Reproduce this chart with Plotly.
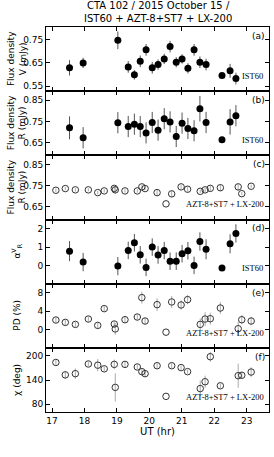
import plotly.graph_objects as go
from plotly.subplots import make_subplots

# ---------------- data ----------------
ist_t = [17.54, 17.96, 19.03, 19.35, 19.54, 19.72, 19.90, 20.09, 20.27, 20.46,
         20.64, 20.83, 21.01, 21.19, 21.38, 21.56, 21.75, 22.49, 22.67]
v_flux = [0.629, 0.650, 0.747, 0.633, 0.599, 0.657, 0.706, 0.629, 0.643, 0.667,
          0.720, 0.653, 0.667, 0.627, 0.706, 0.653, 0.643, 0.616, 0.583]
v_err = [0.033, 0.022, 0.038, 0.025, 0.020, 0.025, 0.025, 0.025, 0.022, 0.022,
         0.025, 0.022, 0.020, 0.022, 0.025, 0.025, 0.025, 0.030, 0.025]
r_flux_ist = [0.720, 0.673, 0.744, 0.726, 0.737, 0.726, 0.696, 0.745, 0.709, 0.763,
              0.748, 0.679, 0.742, 0.717, 0.706, 0.810, 0.745, 0.748, 0.777]
r_err_ist = [0.054, 0.050, 0.050, 0.050, 0.050, 0.050, 0.050, 0.050, 0.050, 0.050,
             0.050, 0.050, 0.050, 0.050, 0.050, 0.060, 0.050, 0.060, 0.050]
alpha = [0.78, 0.18, -0.04, 0.82, 1.24, 0.58, -0.11, 1.00, 0.57, 0.81,
         0.23, 0.23, 0.64, 0.80, 0.00, 1.31, 0.88, 1.18, 1.75]
alpha_err = [0.55, 0.50, 0.50, 0.48, 0.48, 0.48, 0.48, 0.48, 0.48, 0.48,
             0.48, 0.48, 0.48, 0.48, 0.48, 0.50, 0.55, 0.52, 0.50]

azt_t = [17.12, 17.41, 17.72, 18.12, 18.41, 18.61, 18.92, 18.95, 19.25, 19.63,
         19.77, 19.87, 20.24, 20.69, 20.98, 21.18, 21.57, 21.72, 21.88, 22.19,
         22.74, 22.85, 23.14]
r_flux_azt = [0.728, 0.736, 0.730, 0.730, 0.717, 0.725, 0.737, 0.730, 0.725, 0.725,
              0.744, 0.736, 0.717, 0.711, 0.744, 0.733, 0.723, 0.730, 0.737, 0.740,
              0.744, 0.712, 0.747]
r_err_azt = [0.008, 0.008, 0.008, 0.008, 0.008, 0.008, 0.010, 0.018, 0.008, 0.008,
             0.010, 0.008, 0.015, 0.015, 0.010, 0.012, 0.008, 0.010, 0.012, 0.015,
             0.015, 0.008, 0.008]
pd_val = [2.06, 1.54, 1.10, 2.28, 0.88, 4.56, 1.18, 0.10, 2.13, 2.72,
          6.98, 1.84, 5.44, 6.03, 5.37, 6.54, 1.10, 2.28, 2.35, 4.70,
          0.15, 2.13, 1.84]
pd_err = [0.6, 0.6, 0.6, 0.6, 0.6, 0.6, 0.6, 1.3, 0.7, 0.6,
          1.3, 0.7, 1.4, 1.3, 1.0, 1.0, 1.3, 1.5, 1.3, 1.3,
          1.5, 1.0, 0.9]
chi_val = [183.8, 153, 156, 180, 177, 168, 179, 122, 179, 172.6,
           161, 156, 175.7, 175.7, 171, 161, 119, 136, 198, 126,
           151, 152, 160]
chi_err = [6, 10, 13, 6, 15, 6, 12, 35, 8, 6,
           6, 8, 6, 6, 5, 5, 20, 15, 12, 6,
           30, 8, 12]

x_ticks = [17, 18, 19, 20, 21, 22, 23]
y_ticks = [[0.55, 0.65, 0.75], [0.65, 0.75, 0.85], [0.65, 0.75, 0.85],
           [0, 1, 2], [0, 4, 8], [80, 140, 200]]
y_ranges = [[0.529, 0.804], [0.59, 0.893], [0.59, 0.893],
            [-1.0, 2.51], [-4.05, 10.05], [61, 220]]
y_titles = ["Flux density<br>V (mJy)", "Flux density<br>R (mJy)",
            "Flux density<br>R (mJy)", "α<sup>V</sup><sub>R</sub>",
            "PD (%)", "χ (deg)"]
panel_labels = ["(a)", "(b)", "(c)", "(d)", "(e)", "(f)"]
ist_name = "IST60"
azt_name = "AZT-8+ST7 + LX-200"
title_text = "CTA 102 / 2015 October 15 /<br>IST60 + AZT-8+ST7 + LX-200"

# ---------------- figure ----------------
fig = make_subplots(rows=6, cols=1, shared_xaxes=True, vertical_spacing=0)

def ist_trace(y, e, leg):
    return go.Scatter(
        x=ist_t, y=y, mode="markers", name=ist_name, legend=leg,
        marker=dict(symbol="circle", size=7, color="black"),
        error_y=dict(type="data", array=e, color="#555555", thickness=1, width=0),
    )

def azt_trace(y, e, leg):
    return go.Scatter(
        x=azt_t, y=y, mode="markers", name=azt_name, legend=leg,
        marker=dict(symbol="circle-open", size=6.5, color="#333333",
                    line=dict(width=1, color="#333333")),
        error_y=dict(type="data", array=e, color="#aaaaaa", thickness=1, width=0),
    )

fig.add_trace(ist_trace(v_flux, v_err, "legend"), row=1, col=1)
fig.add_trace(ist_trace(r_flux_ist, r_err_ist, "legend2"), row=2, col=1)
fig.add_trace(azt_trace(r_flux_azt, r_err_azt, "legend3"), row=3, col=1)
fig.add_trace(ist_trace(alpha, alpha_err, "legend4"), row=4, col=1)
fig.add_trace(azt_trace(pd_val, pd_err, "legend5"), row=5, col=1)
fig.add_trace(azt_trace(chi_val, chi_err, "legend6"), row=6, col=1)

tickfont = dict(family="DejaVu Sans", size=9, color="black")
axis_common = dict(showline=True, linecolor="black", linewidth=1, mirror="ticks",
                   ticks="inside", ticklen=4, tickcolor="black", tickwidth=1,
                   showgrid=False, zeroline=False, tickfont=tickfont)

for i in range(6):
    fig.update_xaxes(range=[16.815, 23.69], tickvals=x_ticks,
                     showticklabels=(i == 5), row=i + 1, col=1, **axis_common)
    fig.update_yaxes(range=y_ranges[i], tickvals=y_ticks[i], row=i + 1, col=1,
                     **axis_common)

fig.update_xaxes(title=dict(text="UT (hr)", font=dict(family="DejaVu Sans", size=10,
                 color="black"), standoff=2), row=6, col=1)

annotations = []
for i in range(6):
    xr = "x domain" if i == 0 else f"x{i+1} domain"
    yr = "y domain" if i == 0 else f"y{i+1} domain"
    annotations.append(dict(text=panel_labels[i], xref=xr, yref=yr, x=0.99, y=0.97,
                            xanchor="right", yanchor="top", showarrow=False,
                            font=dict(family="DejaVu Sans", size=9, color="black")))
    annotations.append(dict(text=y_titles[i], xref="paper", yref=yr,
                            x=-0.13, y=0.5, xanchor="center", yanchor="middle",
                            textangle=-90, showarrow=False,
                            font=dict(family="DejaVu Sans", size=9, color="black")))
annotations.append(dict(text=title_text,
                        xref="paper", yref="paper", x=0.5, y=1.0, yshift=1,
                        xanchor="center", yanchor="bottom", showarrow=False,
                        font=dict(family="DejaVu Sans", size=10, color="black")))
fig.update_layout(annotations=annotations)

# legends
domains = []
for i in range(6):
    key = "yaxis" if i == 0 else f"yaxis{i+1}"
    domains.append(fig.layout[key].domain)
leg_font = dict(family="Liberation Serif", size=8.5, color="black")
leg_names = ["legend", "legend2", "legend3", "legend4", "legend5", "legend6"]
for i, ln in enumerate(leg_names):
    fig.update_layout({ln: dict(x=1.0, xanchor="right", y=domains[i][0] + 0.003,
                                yanchor="bottom", bgcolor="rgba(0,0,0,0)",
                                font=leg_font, itemwidth=30,
                                tracegroupgap=0)})

fig.update_layout(
    width=274, height=457,
    margin=dict(l=46, r=5, t=27, b=45),
    paper_bgcolor="white", plot_bgcolor="white",
    showlegend=True,
)

fig.write_html("out.html",
               config={"displayModeBar": False},
               post_script="document.body.style.margin='0';"
                           "document.body.style.overflow='hidden';")
